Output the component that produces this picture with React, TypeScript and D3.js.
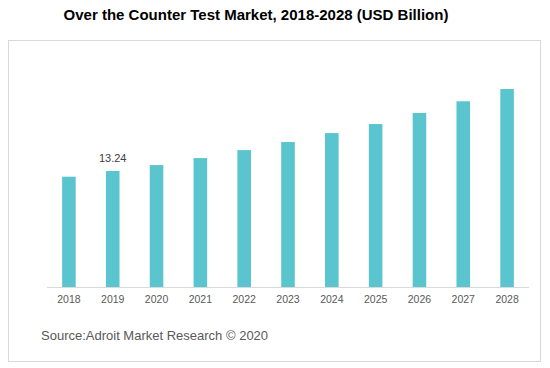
import React, { useEffect, useRef } from 'react';
import * as d3 from 'd3';

const years = ['2018', '2019', '2020', '2021', '2022', '2023', '2024', '2025', '2026', '2027', '2028'];
const marketValues = [12.59, 13.24, 13.92, 14.72, 15.63, 16.55, 17.57, 18.6, 19.86, 21.2, 22.6];
const labelledYears = ['2019'];

const App: React.FC = () => {
  const chartRef = useRef<SVGSVGElement>(null);

  useEffect(() => {
    if (!chartRef.current) return;

    const svg = d3.select(chartRef.current);
    svg.selectAll("*").remove();

    const font = "'Liberation Sans', Arial, sans-serif";

    // Title
    svg.append("text")
      .attr("x", 256)
      .attr("y", 20)
      .attr("text-anchor", "middle")
      .style("font-family", font)
      .style("font-size", "15px")
      .style("font-weight", "bold")
      .style("fill", "#000")
      .text("Over the Counter Test Market, 2018-2028 (USD Billion)");

    // Chart frame
    svg.append("rect")
      .attr("x", 8.5)
      .attr("y", 40.5)
      .attr("width", 532)
      .attr("height", 321)
      .style("fill", "#fff")
      .style("stroke", "#d9d9d9")
      .style("stroke-width", 1);

    // Scales
    const xScale = d3.scaleBand()
      .domain(years)
      .range([47, 529])
      .paddingInner(0.69)
      .paddingOuter(0.345);

    const yScale = d3.scaleLinear()
      .domain([0, 25])
      .range([287, 68]);

    const data = years.map((year, i) => ({ year, value: marketValues[i] }));

    // Bars
    svg.selectAll(".bar")
      .data(data)
      .enter()
      .append("rect")
      .attr("class", "bar")
      .attr("x", d => xScale(d.year)!)
      .attr("y", d => yScale(d.value))
      .attr("width", xScale.bandwidth())
      .attr("height", d => yScale(0) - yScale(d.value))
      .style("fill", "#5bc5cf");

    // Baseline
    svg.append("line")
      .attr("x1", 47)
      .attr("x2", 529)
      .attr("y1", yScale(0) + 0.5)
      .attr("y2", yScale(0) + 0.5)
      .style("stroke", "#d9d9d9")
      .style("stroke-width", 1);

    // Category labels
    const xAxis = svg.append("g")
      .attr("transform", `translate(0, ${yScale(0)})`)
      .call(d3.axisBottom(xScale).tickSize(0).tickPadding(9));
    xAxis.select(".domain").remove();
    xAxis.selectAll("text")
      .style("font-family", font)
      .style("font-size", "10.5px")
      .style("fill", "#595959");

    // Data label
    svg.selectAll(".value-label")
      .data(data.filter(d => labelledYears.includes(d.year)))
      .enter()
      .append("text")
      .attr("class", "value-label")
      .attr("x", d => xScale(d.year)! + xScale.bandwidth() / 2)
      .attr("y", d => yScale(d.value) - 9)
      .attr("text-anchor", "middle")
      .style("font-family", font)
      .style("font-size", "11px")
      .style("fill", "#404040")
      .text(d => d.value.toFixed(2));

    // Source
    svg.append("text")
      .attr("x", 41)
      .attr("y", 340)
      .style("font-family", font)
      .style("font-size", "13px")
      .style("fill", "#595959")
      .text("Source:Adroit Market Research \u00A9 2020");
  }, []);

  return (
    <svg
      ref={chartRef}
      width={550}
      height={368}
      style={{ position: 'absolute', left: 0, top: 0, display: 'block', background: '#fff' }}
    />
  );
};

export default App;
